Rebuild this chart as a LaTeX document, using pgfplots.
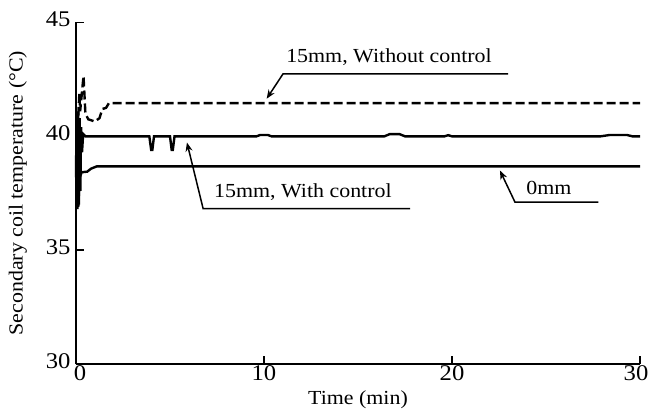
\documentclass[border=0pt]{standalone}
\usepackage{fontspec}
\setmainfont{Liberation Serif}[FakeStretch=1.1]
\usepackage{pgfplots}
\pgfplotsset{compat=1.18}
\usetikzlibrary{arrows.meta}
\newcommand\fs{\fontsize{20}{24}\selectfont}
\newcommand\ts{\fontsize{22.5}{26}\selectfont}

\begin{document}
\begin{tikzpicture}[font=\fs]
\useasboundingbox (-76bp,-50bp) rectangle (573bp,364bp);
\begin{axis}[
    at={(0,0)}, anchor=south west,
    scale only axis,
    width=564bp, height=341.5bp,
    xmin=0, xmax=30,
    ymin=30, ymax=45,
    axis x line*=bottom,
    axis y line*=left,
    axis line style={line width=1.6bp},
    xtick={0,10,20,30},
    xticklabels={{\hspace*{8bp}0},10,20,{30\hspace*{8bp}}},
    ytick={30,35,40,45},
    tick align=inside,
    major tick length=8bp,
    tick style={line width=1.4bp, black},
    /pgf/number format/assume math mode=true,
    tick label style={font=\ts},
    xticklabel style={inner sep=1.5bp},
    yticklabel style={xshift=-2bp, yshift=3bp},
    label style={font=\fs},
    xlabel={Time (min)},
    ylabel={Secondary coil temperature (°C)},
    xlabel style={at={(axis description cs:0.5,-0.105)}, anchor=center},
    ylabel style={at={(axis description cs:-0.103,0.5)}, anchor=center},
    clip=false,
]
% 15mm, without control (dashed)
\addplot[black, line width=2.4bp, dash pattern=on 9bp off 4bp] coordinates {
(0.12,40.9) (0.18,41.9) (0.22,41.1) (0.4,42.65) (0.5,41.0) (0.65,40.75)
(1.0,40.65) (1.25,40.8) (1.4,41.2) (1.6,41.25) (1.75,41.46) (30,41.46)
};
% 15mm, with control
\addplot[black, line width=2.4bp] coordinates {
(0,38.2) (0.03,40.9) (0.07,36.8) (0.11,41.1) (0.15,37.0) (0.19,40.8)
(0.23,37.6) (0.27,40.4) (0.32,39.3) (0.38,40.1) (0.5,40.0)
(3.9,40.0) (4.0,39.4) (4.06,39.4) (4.15,40.0)
(5.0,40.0) (5.09,39.4) (5.15,39.4) (5.24,40.0)
(9.6,40.0) (9.8,40.06) (10.2,40.06) (10.4,40.0)
(16.4,40.0) (16.7,40.1) (17.2,40.1) (17.5,40.0)
(19.6,40.0) (19.8,40.05) (20.0,40.0)
(27.9,40.0) (28.4,40.06) (29.3,40.06) (29.6,40.0) (30,40.0)
};
% 0mm
\addplot[black, line width=2.4bp] coordinates {
(0.05,38.0) (0.12,36.9) (0.2,38.2) (0.3,38.42) (0.6,38.45) (0.8,38.58)
(1.1,38.68) (30,38.68)
};
% annotations
\draw[line width=1.5bp, -{Stealth[length=9bp,width=7bp]}]
  (axis cs:22.98,42.74) -- (axis cs:11.01,42.74) -- (axis cs:10.14,41.65);
\node at (axis cs:16.65,43.48) {15mm, Without control};
\draw[line width=1.5bp, -{Stealth[length=9bp,width=7bp]}]
  (axis cs:17.77,36.83) -- (axis cs:6.76,36.83) -- (axis cs:5.9,39.73);
\node at (axis cs:12.07,37.53) {15mm, With control};
\draw[line width=1.5bp, -{Stealth[length=9bp,width=7bp]}]
  (axis cs:27.78,37.11) -- (axis cs:23.35,37.11) -- (axis cs:22.55,38.5);
\node at (axis cs:25.16,37.71) {0mm};
\end{axis}
\end{tikzpicture}
\end{document}
